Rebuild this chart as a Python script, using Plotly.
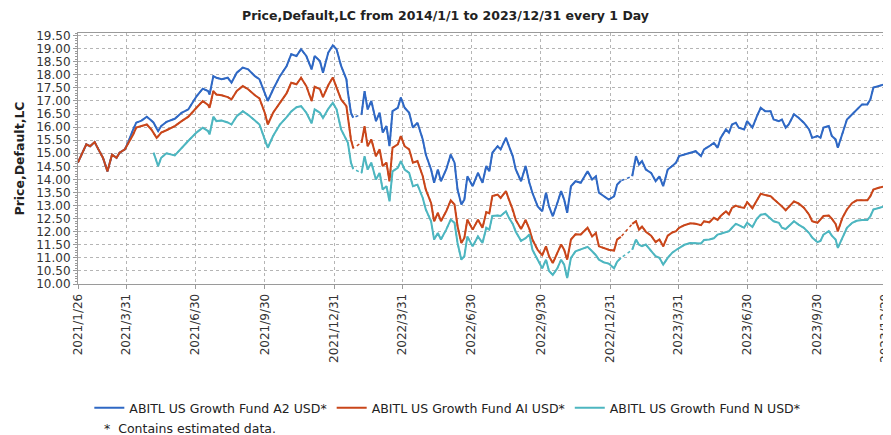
import plotly.graph_objects as go

# ---------------- data ----------------
dates = [
    # 2021
    "2021-01-26", "2021-01-31", "2021-02-06", "2021-02-11", "2021-02-17", "2021-02-22", "2021-02-28",
    "2021-03-06", "2021-03-09", "2021-03-12", "2021-03-18", "2021-03-22", "2021-03-29", "2021-04-02",
    "2021-04-09", "2021-04-13", "2021-04-20", "2021-04-27", "2021-05-03", "2021-05-06", "2021-05-10",
    "2021-05-12", "2021-05-16", "2021-05-23", "2021-06-03", "2021-06-12", "2021-06-21", "2021-07-02",
    "2021-07-10", "2021-07-17", "2021-07-19", "2021-07-24",
    "2021-07-28", "2021-08-04", "2021-08-12", "2021-08-17", "2021-08-24", "2021-09-01", "2021-09-08",
    "2021-09-17", "2021-09-23", "2021-09-30", "2021-10-04", "2021-10-11", "2021-10-20", "2021-10-29",
    "2021-11-04", "2021-11-11", "2021-11-17", "2021-11-24", "2021-12-01", "2021-12-05", "2021-12-12",
    "2021-12-16", "2021-12-23", "2021-12-29",
    # 2022
    "2022-01-03", "2022-01-09", "2022-01-16",
    "2022-01-18", "2022-01-22", "2022-01-25",
    "2022-01-30",
    "2022-02-05", "2022-02-09", "2022-02-13", "2022-02-18", "2022-02-24", "2022-03-01", "2022-03-05",
    "2022-03-10", "2022-03-14", "2022-03-18", "2022-03-25", "2022-03-29", "2022-04-03", "2022-04-09",
    "2022-04-14", "2022-04-20", "2022-04-27", "2022-05-01", "2022-05-08", "2022-05-12", "2022-05-17",
    "2022-05-21", "2022-05-28", "2022-06-03", "2022-06-08", "2022-06-12", "2022-06-17", "2022-06-21",
    "2022-06-25", "2022-07-02", "2022-07-09", "2022-07-15",
    "2022-07-20", "2022-07-24", "2022-07-28", "2022-08-04", "2022-08-08", "2022-08-15", "2022-08-19",
    "2022-08-24", "2022-08-28", "2022-09-04", "2022-09-10", "2022-09-15", "2022-09-19", "2022-09-26",
    "2022-10-02", "2022-10-07", "2022-10-11", "2022-10-16", "2022-10-22", "2022-10-27", "2022-10-31",
    "2022-11-04", "2022-11-09", "2022-11-15", "2022-11-22", "2022-12-01", "2022-12-07", "2022-12-12",
    "2022-12-16", "2022-12-23", "2022-12-29",
    # 2023
    "2023-01-05",
    "2023-01-09", "2023-01-14",
    "2023-01-22",
    "2023-01-29", "2023-02-03", "2023-02-07", "2023-02-11", "2023-02-16", "2023-02-23", "2023-03-01",
    "2023-03-06", "2023-03-11", "2023-03-17", "2023-03-23", "2023-03-28", "2023-04-01", "2023-04-08",
    "2023-04-16", "2023-04-23", "2023-04-30", "2023-05-04", "2023-05-11", "2023-05-17", "2023-05-22",
    "2023-05-26", "2023-06-02", "2023-06-06", "2023-06-10", "2023-06-15", "2023-06-19", "2023-06-26",
    "2023-06-30",
    "2023-07-07", "2023-07-13", "2023-07-18", "2023-07-24", "2023-07-31", "2023-08-04", "2023-08-11",
    "2023-08-15", "2023-08-20", "2023-08-24", "2023-08-31", "2023-09-06", "2023-09-13", "2023-09-20",
    "2023-09-24", "2023-10-01", "2023-10-05", "2023-10-09", "2023-10-16", "2023-10-20", "2023-10-25",
    "2023-10-28", "2023-11-03", "2023-11-09", "2023-11-16", "2023-11-22", "2023-11-29", "2023-12-06",
    "2023-12-10", "2023-12-14", "2023-12-21", "2023-12-29",
]

a2_usd = [
    14.65, 14.95, 15.34, 15.27, 15.43, 15.15, 14.83, 14.31, 14.64, 14.95, 14.83, 15.02, 15.15, 15.40,
    15.91, 16.17, 16.25, 16.40, 16.25, 16.17, 15.95, 15.85, 16.04, 16.20, 16.32, 16.55, 16.68, 17.19,
    17.47, 17.38, 17.25, 17.95,
    17.89, 17.83, 17.89, 17.70, 18.08, 18.28, 18.21, 17.95, 17.83, 17.32, 17.00, 17.44, 17.95, 18.34,
    18.79, 18.72, 18.98, 18.72, 18.21, 18.72, 18.53, 18.08, 18.85, 19.13, 18.98, 18.34, 17.83,
    17.32, 16.55, 16.36,
    None,
    16.49, 17.38, 16.68, 17.00, 16.23, 16.55, 15.79, 16.04, 15.27, 16.61, 16.74, 17.13, 16.74, 16.55,
    15.98, 16.17, 15.53, 14.95, 14.38, 13.87, 14.38, 13.93, 14.38, 14.95, 14.64, 13.61, 13.04, 13.23,
    14.12, 13.74, 14.25, 13.87,
    14.51, 14.31, 15.02, 15.27, 15.15, 15.59, 15.27, 14.89, 14.38, 13.93, 14.51, 13.87, 13.49, 12.97,
    12.78, 13.49, 12.97, 12.59, 13.10, 13.55, 13.23, 12.72, 13.74, 13.93, 13.87, 14.31, 14.00, 14.12,
    13.49, 13.36, 13.23, 13.35,
    13.80, 13.95,
    None,
    14.12, 14.89, 14.57, 14.70, 14.38, 14.25, 13.93, 14.12, 13.74, 14.38, 14.51, 14.64, 14.89, 14.95,
    15.02, 15.08, 14.89, 15.15, 15.27, 15.40, 15.21, 15.59, 15.91, 15.79, 16.10, 16.17, 15.98, 15.91,
    16.23,
    15.98, 16.42, 16.74, 16.61, 16.61, 16.29, 16.23, 16.29, 15.98, 16.10, 16.49, 16.36, 16.17, 15.91,
    15.59, 15.66, 15.59, 15.98, 16.04, 15.66, 15.53, 15.21, 15.79, 16.29, 16.49, 16.68, 16.87, 16.87,
    17.06, 17.51, 17.57, 17.64,
]

ai_usd = [
    14.65, 14.95, 15.34, 15.27, 15.43, 15.15, 14.83, 14.31, 14.64, 14.95, 14.83, 15.02, 15.15, 15.34,
    15.72, 15.98, 16.04, 16.10, 15.91, 15.75, 15.59, 15.65, 15.79, 15.88, 16.04, 16.23, 16.40, 16.75,
    17.00, 16.85, 16.74, 17.38,
    17.25, 17.22, 17.15, 17.06, 17.38, 17.57, 17.45, 17.22, 17.10, 16.55, 16.10, 16.55, 16.95, 17.30,
    17.70, 17.64, 17.89, 17.57, 17.00, 17.55, 17.45, 17.15, 17.60, 17.90, 17.51, 17.06, 16.80,
    16.36, 15.53, 15.20,
    None,
    15.40, 16.04, 15.27, 15.53, 14.89, 15.15, 14.51, 14.64, 13.93, 15.21, 15.34, 15.66, 15.27, 15.15,
    14.64, 14.70, 14.12, 13.61, 13.10, 12.40, 12.72, 12.40, 12.78, 13.20, 13.04, 12.21, 11.57, 11.76,
    12.46, 12.08, 12.46, 12.15,
    12.75, 12.70, 13.36, 13.42, 13.29, 13.55, 13.23, 12.85, 12.45, 12.10, 12.45, 12.10, 11.70, 11.30,
    11.10, 11.44, 11.06, 10.80, 11.19, 11.51, 11.31, 10.93, 11.70, 11.90, 11.89, 12.15, 11.82, 11.95,
    11.44, 11.38, 11.31, 11.28,
    11.70, 11.80,
    None,
    12.30, 12.40, 12.08, 12.20, 12.00, 11.85, 11.60, 11.70, 11.44, 11.85, 11.97, 12.02, 12.15, 12.25,
    12.32, 12.30, 12.25, 12.40, 12.36, 12.53, 12.45, 12.60, 12.78, 12.66, 12.91, 13.00, 12.95, 12.91,
    13.13,
    12.90, 13.20, 13.45, 13.40, 13.36, 13.25, 13.08, 12.97, 12.82, 12.95, 13.16, 13.08, 12.92, 12.65,
    12.40, 12.34, 12.46, 12.60, 12.62, 12.50, 12.30, 12.02, 12.53, 12.85, 13.10, 13.20, 13.20, 13.20,
    13.36, 13.61, 13.68, 13.74,
]

n_usd = [
    None, None, None, None, None, None, None, None, None, None, None, None, None, None,
    None, None, None, None, None, 15.02, 14.70, 14.51, 14.83, 15.00, 14.92, 15.21, 15.48, 15.80,
    15.98, 15.85, 15.72, 16.40,
    16.23, 16.25, 16.18, 16.10, 16.42, 16.61, 16.47, 16.25, 16.10, 15.53, 15.21, 15.66, 16.10, 16.38,
    16.60, 16.76, 16.80, 16.55, 16.15, 16.68, 16.55, 16.35, 16.70, 16.93, 16.68, 15.91, 15.53,
    15.40, 14.64, 14.40,
    None,
    14.25, 14.89, 14.38, 14.64, 14.00, 14.25, 13.61, 13.74, 13.16, 14.31, 14.44, 14.70, 14.38, 14.25,
    13.74, 13.80, 13.29, 12.85, 12.40, 11.70, 11.95, 11.70, 12.08, 12.46, 12.34, 11.57, 10.93, 11.06,
    11.82, 11.44, 11.82, 11.57,
    12.15, 12.08, 12.60, 12.62, 12.60, 12.78, 12.53, 12.30, 12.00, 11.65, 11.75, 11.89, 11.31, 10.93,
    10.60, 10.93, 10.50, 10.35, 10.60, 10.93, 10.74, 10.23, 11.00, 11.25, 11.32, 11.42, 11.25, 11.10,
    10.93, 10.82, 10.78, 10.60,
    10.85, 11.00,
    None,
    11.31, 11.70, 11.50, 11.45, 11.51, 11.25, 11.06, 11.00, 10.74, 11.00, 11.20, 11.30, 11.38, 11.50,
    11.57, 11.57, 11.55, 11.68, 11.70, 11.75, 11.89, 11.92, 12.00, 12.02, 12.15, 12.30, 12.25, 12.15,
    12.34,
    12.18, 12.50, 12.65, 12.68, 12.52, 12.40, 12.34, 12.15, 12.10, 12.21, 12.40, 12.27, 12.15, 11.95,
    11.78, 11.60, 11.65, 11.89, 12.02, 11.85, 11.70, 11.38, 11.76, 12.15, 12.34, 12.42, 12.45, 12.45,
    12.59, 12.85, 12.91, 12.97,
]

series_names = [
    "ABITL US Growth Fund A2 USD*",
    "ABITL US Growth Fund AI USD*",
    "ABITL US Growth Fund N USD*",
]

tick_dates = [
    "2021-01-26", "2021-03-31", "2021-06-30", "2021-09-30", "2021-12-31", "2022-03-31", "2022-06-30",
    "2022-09-30", "2022-12-31", "2023-03-31", "2023-06-30", "2023-09-30", "2023-12-29",
]
tick_labels = [
    "2021/1/26", "2021/3/31", "2021/6/30", "2021/9/30", "2021/12/31", "2022/3/31", "2022/6/30",
    "2022/9/30", "2022/12/31", "2023/3/31", "2023/6/30", "2023/9/30", "2023/12/29",
]

assert len(dates) == len(a2_usd) == len(ai_usd) == len(n_usd)

# ---------------- styling ----------------
colors = ["#2f68c4", "#c9461a", "#4db6c0"]
FONT = "DejaVu Sans"
TXT = "#333333"

# the page body has an 8px margin; size the figure so the plot lands where the reference has it
W, H = 883, 427
ML, MR, MT, MB = 70, 4, 25, 151
PLOT_H = H - MT - MB

fig = go.Figure()
series = [a2_usd, ai_usd, n_usd]

# dotted bridges across estimated-data gaps (hidden beneath the solid lines elsewhere)
for vals, col in zip(series, colors):
    fig.add_trace(go.Scatter(
        x=dates, y=vals, mode="lines", connectgaps=True,
        line=dict(color=col, width=1.5, dash="dot"),
        showlegend=False, hoverinfo="skip",
    ))

for name, vals, col in zip(series_names, series, colors):
    fig.add_trace(go.Scatter(
        x=dates, y=vals, mode="lines", name=name, connectgaps=False,
        line=dict(color=col, width=2),
    ))

grid = "#b5b5b5"
frame = "#9a9a9a"

fig.update_layout(
    width=W, height=H,
    margin=dict(l=ML, r=MR, t=MT, b=MB, autoexpand=False),
    paper_bgcolor="white", plot_bgcolor="white",
    font=dict(family=FONT, size=11, color=TXT),
    title=dict(
        text="Price,Default,LC from 2014/1/1 to 2023/12/31 every 1 Day",
        x=(445.5 - 8) / W, xref="container", xanchor="center",
        y=1 - 7.5 / H, yref="container", yanchor="middle",
        font=dict(family=FONT, size=12.5, color="#222222", weight="bold"),
    ),
    showlegend=True,
    legend=dict(
        orientation="h", x=0.014, xanchor="left",
        y=(284 - 408) / PLOT_H, yanchor="middle",
        font=dict(family=FONT, size=12.5, color="#222222"),
        itemwidth=30, tracegroupgap=0,
    ),
)

fig.update_xaxes(
    type="date",
    range=["2021-01-26", "2024-01-01"],
    tickmode="array", tickvals=tick_dates, ticktext=tick_labels,
    tickangle=-90, tickfont=dict(family=FONT, size=12, color=TXT),
    ticklabeloverflow="allow",
    showgrid=True, gridcolor=grid, griddash="dot", gridwidth=1,
    showline=True, linecolor=frame, linewidth=1, mirror=True,
    ticks="outside", ticklen=4, tickcolor=frame,
    zeroline=False,
)

fig.update_yaxes(
    range=[10, 19.6],
    tickmode="linear", tick0=10, dtick=0.5, tickformat=".2f",
    tickfont=dict(family=FONT, size=12, color=TXT),
    showgrid=True, gridcolor=grid, griddash="dot", gridwidth=1,
    showline=True, linecolor=frame, linewidth=1, mirror=True,
    ticks="outside", ticklen=4, tickcolor=frame,
    minor=dict(ticks="outside", ticklen=2, dtick=0.1, tickcolor=frame, showgrid=False),
    title=dict(text="Price,Default,LC", standoff=8,
               font=dict(family=FONT, size=12.5, color="#222222", weight="bold")),
    zeroline=False,
)

fig.add_annotation(
    text="*  Contains estimated data.",
    xref="paper", yref="paper", x=(102 - 78) / (W - ML - MR), y=(284 - 428) / PLOT_H,
    xanchor="left", yanchor="middle", showarrow=False,
    font=dict(family=FONT, size=12.5, color="#222222"),
)

fig.write_html("out.html")
